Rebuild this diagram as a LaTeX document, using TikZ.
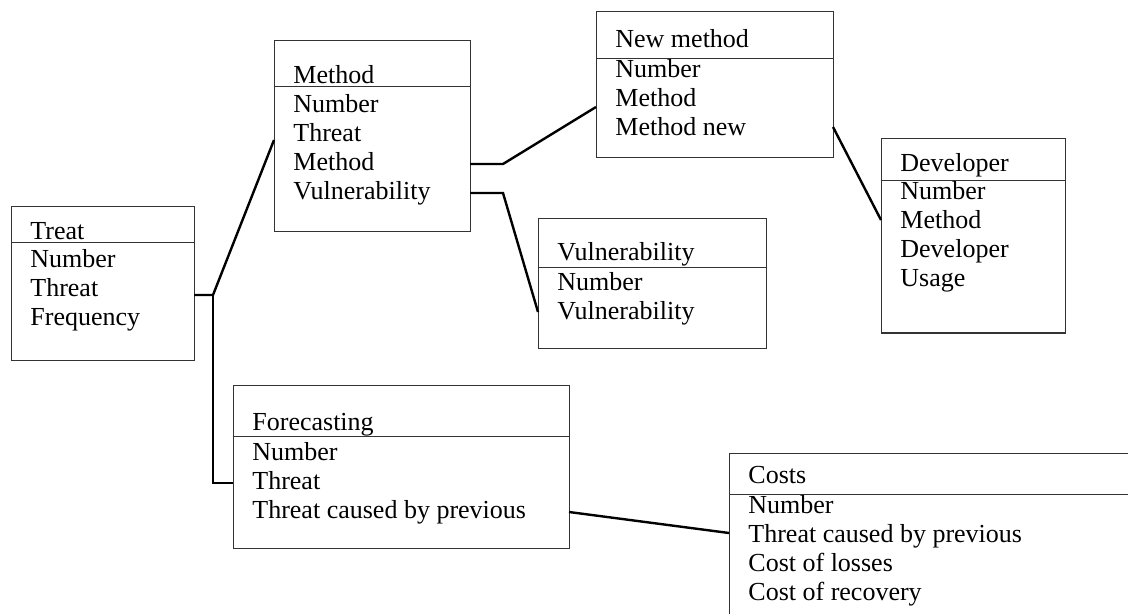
\documentclass[tikz,border=0pt]{standalone}
\usepackage{fontspec}
\setmainfont{Liberation Serif}
\usetikzlibrary{positioning,calc}

\begin{document}
\begin{tikzpicture}[x=0.5pt,y=-0.5pt,
  box/.style={draw=black!80, line width=0.5pt, inner sep=0pt, outer sep=0pt},
  field/.style={anchor=base west, inner sep=0pt, font=\fontsize{13}{15}\selectfont},
  link/.style={line width=1.2pt, line join=miter}]
  \useasboundingbox (0,0) rectangle (1128,614);
  \clip (0,0) rectangle (1128,614);
  \fill[white] (0,0) rectangle (1128,614);

  % Entities: name/x/y/width/head height/body height/title offset/field offset/title/fields
  \foreach \id/\x/\y/\w/\hh/\bh/\tb/\ib/\title/\items in {
      treat/11/207/183/36/117/3/25/Treat/{Number,Threat,Frequency},
      method/274/41/196/46/145/3/26/Method/{Number,Threat,Method,Vulnerability},
      new/596/12/237/47/99/11/19/New method/{Number,Method,Method new},
      dev/881/139/184/42/152/9/19/Developer/{Number,Method,Developer,Usage},
      vuln/538/219/228/49/80/7/23/Vulnerability/{Number,Vulnerability},
      forecast/233/385/336/51/112/6/24/Forecasting/{Number,Threat,Threat caused by previous},
      costs/729/453/420/41/200/11/19/Costs/{Number,Threat caused by previous,Cost of losses,Cost of recovery}} {
    \node[box, anchor=north west, minimum width={\w*0.5pt}, minimum height={\hh*0.5pt}] (\id-head) at (\x,\y) {};
    \node[box, below=0pt of \id-head, minimum width={\w*0.5pt}, minimum height={\bh*0.5pt}] (\id-body) {};
    \node[field] (\id-title) at ($(\id-head.south west)+(19,-\tb)$) {\title};
    \foreach \f [count=\k] in \items
      \node[field] (\id-f\k) at ($(\id-body.north west)+(19,\ib+29*\k-29)$) {\f};
  }

  % Links
  \coordinate (tj) at (213,295);
  \coordinate (fj) at ($(forecast-body.north west)+(0,47)$);
  \draw[link] (treat-body.east |- tj) -- (tj) -- ($(method-body.north west)+(0,53)$);
  \draw[link] (tj) |- (fj);
  \draw[link] ($(method-body.north east)+(0,77)$) -- ++(33,0) -- ($(new-body.north west)+(0,48)$);
  \draw[link] ($(method-body.north east)+(0,106)$) -- ++(33,0) -- ($(vuln-body.north west)+(0,44)$);
  \draw[link] ($(new-body.north east)+(0,68)$) -- ($(dev-body.north west)+(0,39)$);
  \draw[link] ($(forecast-body.north east)+(0,76)$) -- ($(costs-body.north west)+(0,39)$);
\end{tikzpicture}
\end{document}
